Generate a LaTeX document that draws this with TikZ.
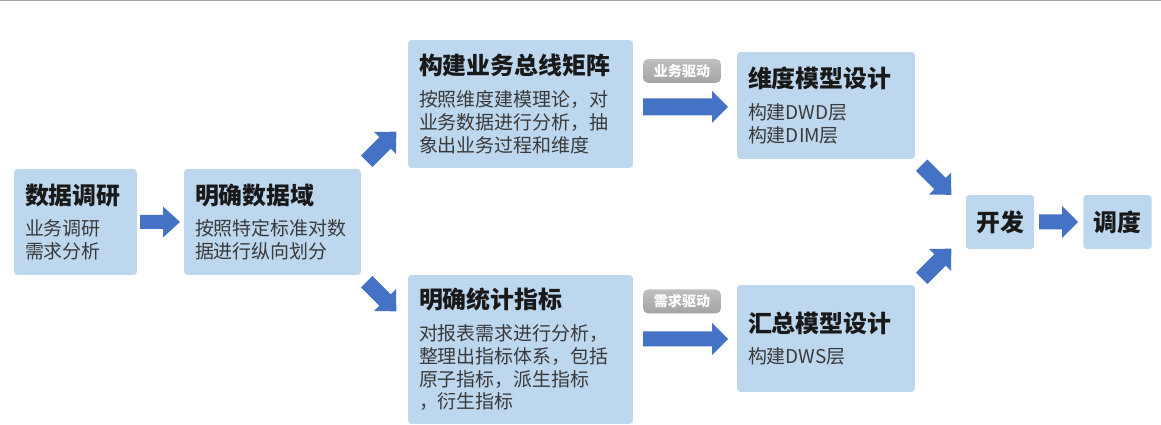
\documentclass[tikz,border=0pt]{standalone}
\usepackage{fontspec}
\setmainfont{Noto Sans CJK SC}

\definecolor{boxblue}{HTML}{BDD7EE}
\definecolor{arrowblue}{HTML}{4472C4}
\definecolor{bodygray}{HTML}{3A3A3A}

\newcommand{\headfont}{\fontsize{13.6pt}{16pt}\selectfont\bfseries}
% block arrow: name, centre, angle, length, head width, shaft width, head length
\newcommand{\fatarrow}[7]{%
  \coordinate (#1) at #2;
  \begin{scope}[shift={(#1)}, rotate=#3]
    \fill[arrowblue] (-#4/2,-#6/2) -- (#4/2-#7,-#6/2) -- (#4/2-#7,-#5/2) -- (#4/2,0)
      -- (#4/2-#7,#5/2) -- (#4/2-#7,#6/2) -- (-#4/2,#6/2) -- cycle;
  \end{scope}}

\begin{document}
\begin{tikzpicture}[
    x=0.02cm, y=-0.02cm,
    phase/.style={rectangle, rounded corners=2pt, fill=boxblue, draw=none, inner xsep=0.22cm, inner ysep=0pt, align=left, text=bodygray, font=\fontsize{10.8pt}{13pt}\selectfont},
    endphase/.style={rectangle, rounded corners=2pt, fill=boxblue, draw=none, inner sep=0pt, align=center, text=black!90, font=\headfont, minimum width=1.37cm, minimum height=1.08cm},
    tag/.style={rectangle, rounded corners=3pt, top color=gray!50, bottom color=gray!72, draw=none, text=white, font=\fontsize{8pt}{9pt}\selectfont\bfseries, minimum width=1.56cm, minimum height=0.48cm, inner sep=0pt}
]
\useasboundingbox (0,0) rectangle (1161,425);

% top rule
\draw[gray!70, line width=1.2pt] (0,0) -- (1161,0);

% stages
\node[phase, text width=2.02cm, minimum height=2.12cm] (survey) at (75.5,222)
    {{\headfont\color{black!90}数据调研}\\[5pt]业务调研\\需求分析};
\node[phase, text width=3.1cm, minimum height=2.12cm] (domain) at (272.5,222)
    {{\headfont\color{black!90}明确数据域}\\[5pt]按照特定标准对数\\据进行纵向划分};
\node[phase, text width=4.06cm, minimum height=2.56cm] (matrix) at (520.5,104)
    {{\headfont\color{black!90}构建业务总线矩阵}\\[5pt]按照维度建模理论，对\\业务数据进行分析，抽\\象出业务过程和维度};
\node[phase, text width=4.06cm, minimum height=2.98cm] (metric) at (520.5,349.5)
    {{\headfont\color{black!90}明确统计指标}\\[5pt]对报表需求进行分析，\\整理出指标体系，包括\\原子指标，派生指标\\，衍生指标};
\node[phase, text width=3.12cm, minimum height=2.14cm] (dimmodel) at (826,105.5)
    {{\headfont\color{black!90}维度模型设计}\\[5pt]构建DWD层\\构建DIM层};
\node[phase, text width=3.12cm, minimum height=2.14cm] (summodel) at (826,338.5)
    {{\headfont\color{black!90}汇总模型设计}\\[5pt]构建DWS层};
\node[endphase] (dev) at (1000,222) {开发};
\node[endphase] (sched) at (1117.5,222) {调度};

% drivers
\node[tag] (bizdrive) at (682,71) {业务驱动};
\node[tag] (reqdrive) at (682,301.5) {需求驱动};

% block arrows
\fatarrow{a1}{(160,222)}{0}{40}{31}{14}{17}
\fatarrow{a2}{(381.5,146.5)}{45}{42}{31}{16}{16}
\fatarrow{a3}{(381.5,296.5)}{-45}{42}{31}{16}{16}
\fatarrow{a4}{(685.5,107)}{0}{85}{32}{17}{16}
\fatarrow{a5}{(685.5,339)}{0}{85}{32}{15}{16}
\fatarrow{a6}{(936.5,180)}{-45}{42}{31}{16}{16}
\fatarrow{a7}{(936.5,263.5)}{45}{42}{31}{16}{16}
\fatarrow{a8}{(1058.5,222)}{0}{39}{32}{15}{16}

\end{tikzpicture}
\end{document}
